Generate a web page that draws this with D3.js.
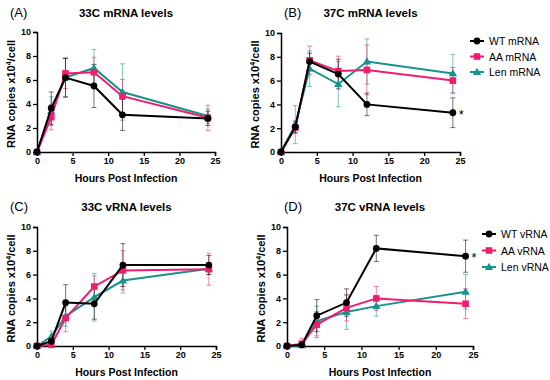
<!DOCTYPE html>
<html><head><meta charset="utf-8">
<script src="https://cdn.jsdelivr.net/npm/d3@7"></script>
<style>body{margin:0;background:#fff}svg{display:block}text{font-family:Arial,"Liberation Sans",sans-serif}</style>
</head><body><svg id="c" width="550" height="380"></svg>
<script>
const hours = [0, 2, 4, 8, 12, 24];
const xTicks = [0, 5, 10, 15, 20, 25];
const yTicks = [0, 2, 4, 6, 8, 10];
const panelLetters = ["(A)", "(B)", "(C)", "(D)"];
const panelTitles = ["33C mRNA levels", "37C mRNA levels", "33C vRNA levels", "37C vRNA levels"];
const seriesNames = ["WT", "AA", "Len"];
const legendMRNA = ["WT mRNA", "AA mRNA", "Len mRNA"];
const legendVRNA = ["WT vRNA", "AA vRNA", "Len vRNA"];

// Panel A: 33C mRNA
const aWT = [0, 3.65, 6.2, 5.5, 3.1, 2.8];
const aWTsd = [0, 1.35, 1.6, 1.8, 1.3, 0.6];
const aAA = [0, 2.9, 6.55, 6.65, 4.65, 2.85];
const aAAsd = [0, 1.05, 1.25, 1.25, 1.4, 1.05];
const aLen = [0, 3.4, 6.2, 7.0, 5.0, 3.0];
const aLensd = [0, 1.2, 1.65, 1.55, 2.35, 0.6];
// Panel B: 37C mRNA
const bWT = [0, 2.1, 7.6, 6.55, 4.0, 3.3];
const bWTsd = [0, 0.5, 0.7, 1.25, 0.95, 1.25];
const bAA = [0, 2.05, 7.7, 6.8, 6.9, 6.0];
const bAAsd = [0, 0.45, 1.2, 1.25, 2.1, 1.1];
const bLen = [0, 2.3, 7.0, 5.7, 7.6, 6.6];
const bLensd = [0, 1.6, 1.5, 1.9, 1.9, 1.6];
// Panel C: 33C vRNA
const cWT = [0, 0.4, 3.65, 3.55, 6.8, 6.8];
const cWTsd = [0, 0.3, 1.5, 1.3, 1.8, 0.8];
const cAA = [0, 0.1, 2.35, 5.0, 6.35, 6.45];
const cAAsd = [0, 0.15, 1.15, 0.9, 1.65, 1.35];
const cLen = [0, 0.8, 2.5, 4.1, 5.5, 6.5];
const cLensd = [0, 0.45, 0.85, 2.0, 1.05, 0.5];
// Panel D: 37C vRNA
const dWT = [0, 0.1, 2.55, 3.65, 8.2, 7.55];
const dWTsd = [0, 0.1, 1.35, 1.15, 1.1, 1.35];
const dAA = [0, 0.2, 1.8, 3.2, 4.0, 3.55];
const dAAsd = [0, 0.45, 1.1, 1.1, 1.0, 1.25];
const dLen = [0, 0.05, 2.1, 2.85, 3.35, 4.55];
const dLensd = [0, 0.1, 1.25, 1.45, 0.85, 1.45];

const colors = {WT: "#000000", AA: "#F21C6E", Len: "#17938E"};

const panels = [
  {x0: 37, x1: 215, y0: 152, y1: 32, series: [[aWT, aWTsd], [aAA, aAAsd], [aLen, aLensd]], legend: null, star: null, lx: 10, ly: 17},
  {x0: 281, x1: 460, y0: 152, y1: 33, series: [[bWT, bWTsd], [bAA, bAAsd], [bLen, bLensd]], legend: {names: legendMRNA, x: 470, y: 41, dy: 15.5}, star: 0, lx: 284, ly: 17},
  {x0: 37, x1: 216, y0: 346, y1: 227, series: [[cWT, cWTsd], [cAA, cAAsd], [cLen, cLensd]], legend: null, star: null, lx: 10, ly: 211},
  {x0: 287, x1: 473, y0: 346, y1: 227, series: [[dWT, dWTsd], [dAA, dAAsd], [dLen, dLensd]], legend: {names: legendVRNA, x: 482, y: 234, dy: 16.5}, star: 0, lx: 284, ly: 211}
];

const svg = d3.select("#c");

function marker(g, name, x, y) {
  const c = colors[name];
  if (name === "WT") g.append("circle").attr("cx", x).attr("cy", y).attr("r", 3.4).attr("fill", c);
  else if (name === "AA") g.append("rect").attr("x", x - 3.3).attr("y", y - 3.3).attr("width", 6.6).attr("height", 6.6).attr("fill", c);
  else g.append("path").attr("d", d3.symbol(d3.symbolTriangle, 30)()).attr("transform", `translate(${x},${y + 0.5})`).attr("fill", c);
}

panels.forEach((p, pi) => {
  const x = d3.scaleLinear().domain([0, 25]).range([p.x0, p.x1]);
  const y = d3.scaleLinear().domain([0, 10]).range([p.y0, p.y1]);
  const g = svg.append("g");

  g.append("text").attr("x", p.lx).attr("y", p.ly).attr("font-size", 13).text(panelLetters[pi]);
  g.append("text").attr("x", (p.x0 + p.x1) / 2).attr("y", p.ly).attr("text-anchor", "middle")
    .attr("font-size", 11.5).attr("font-weight", "bold").text(panelTitles[pi]);

  const xa = g.append("g").attr("transform", `translate(0,${p.y0})`)
    .call(d3.axisBottom(x).tickValues(xTicks).tickSize(4).tickPadding(2));
  const ya = g.append("g").attr("transform", `translate(${p.x0},0)`)
    .call(d3.axisLeft(y).tickValues(yTicks).tickSize(4).tickPadding(2));
  [xa, ya].forEach(a => {
    a.select(".domain").attr("stroke-width", 1.5);
    a.selectAll(".tick line").attr("stroke-width", 1.3);
    a.selectAll("text").attr("font-size", 9).attr("font-weight", "bold").attr("font-family", "Arial, 'Liberation Sans', sans-serif");
  });

  g.append("text").attr("x", (p.x0 + p.x1) / 2).attr("y", p.y0 + 30).attr("text-anchor", "middle")
    .attr("font-size", 10.5).attr("font-weight", "bold").text("Hours Post Infection");
  const yl = g.append("text").attr("transform", `translate(${p.x0 - 22},${(p.y0 + p.y1) / 2 + 2}) rotate(-90)`)
    .attr("text-anchor", "middle").attr("font-size", 11).attr("font-weight", "bold");
  yl.append("tspan").text("RNA copies x10");
  yl.append("tspan").attr("font-size", 7).attr("dy", -4).text("4");
  yl.append("tspan").attr("dy", 4).text("/cell");

  const order = [2, 1, 0];
  order.forEach(si => {
    const name = seriesNames[si];
    const [vals, sd] = p.series[si];
    const c = colors[name];
    const eg = g.append("g").attr("stroke", c).attr("stroke-opacity", 0.55).attr("stroke-width", 1);
    hours.forEach((h, i) => {
      if (sd[i] <= 0) return;
      const xx = x(h), yt = y(vals[i] + sd[i]), yb = y(Math.max(0, vals[i] - sd[i]));
      eg.append("line").attr("x1", xx).attr("x2", xx).attr("y1", yt).attr("y2", yb);
      eg.append("line").attr("x1", xx - 2.5).attr("x2", xx + 2.5).attr("y1", yt).attr("y2", yt);
      eg.append("line").attr("x1", xx - 2.5).attr("x2", xx + 2.5).attr("y1", yb).attr("y2", yb);
    });
  });
  order.forEach(si => {
    const name = seriesNames[si];
    const [vals] = p.series[si];
    const line = d3.line().x((d, i) => x(hours[i])).y(d => y(d));
    g.append("path").datum(vals).attr("d", line).attr("fill", "none").attr("stroke", colors[name]).attr("stroke-width", 2);
    vals.forEach((v, i) => marker(g, name, x(hours[i]), y(v)));
  });

  if (p.star !== null) {
    const wt = p.series[0][0];
    g.append("text").attr("x", x(24) + 6).attr("y", y(wt[5]) + 6).attr("font-size", 13).text("*");
  }

  if (p.legend) {
    p.legend.names.forEach((n, i) => {
      const ly = p.legend.y + i * p.legend.dy;
      const name = seriesNames[i];
      g.append("line").attr("x1", p.legend.x).attr("x2", p.legend.x + 14).attr("y1", ly).attr("y2", ly)
        .attr("stroke", colors[name]).attr("stroke-width", 2);
      marker(g, name, p.legend.x + 7, ly);
      g.append("text").attr("x", p.legend.x + 19).attr("y", ly + 4).attr("font-size", 10.5).text(n);
    });
  }
});
</script></body></html>
